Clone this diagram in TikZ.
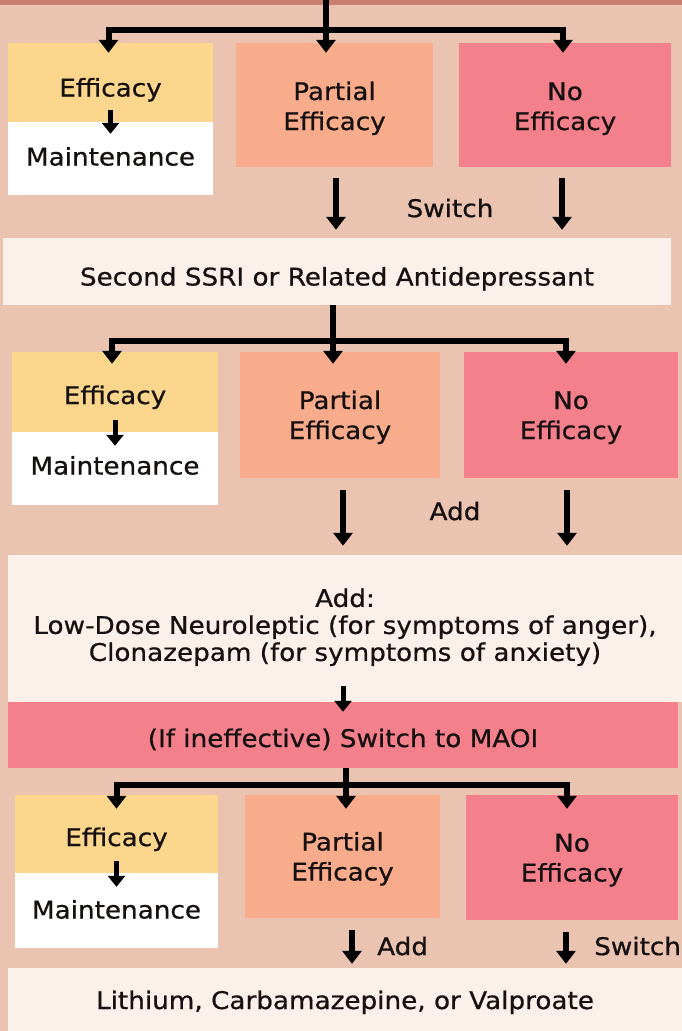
\documentclass[tikz,border=0pt]{standalone}
\usepackage{fontspec}
\newfontfamily\df[FakeStretch=1.08,FakeBold=0.7]{DejaVu Sans}
\usetikzlibrary{arrows.meta}
\definecolor{bg}{RGB}{235,195,177}
\definecolor{topband}{RGB}{201,127,112}
\definecolor{yel}{RGB}{251,214,140}
\definecolor{sal}{RGB}{249,172,140}
\definecolor{pnk}{RGB}{244,128,140}
\definecolor{lite}{RGB}{252,240,234}
\definecolor{txt}{RGB}{22,16,16}
\newcommand{\mytxt}[2]{\raisebox{#1}[\height][\depth]{\begin{tabular}{@{}c@{}}#2\end{tabular}}}
\begin{document}
\begin{tikzpicture}[x=1pt,y=-1pt,
  lbl/.style={font=\df\fontsize{24.3}{30}\selectfont, text=txt, align=center, inner sep=0pt},
  box/.style={lbl, rectangle, draw=none},
  arr/.style={line width=6pt, -{Triangle[width=19pt,length=13pt]}},
  sarr/.style={line width=5pt, -{Triangle[width=17pt,length=11pt]}}]
\useasboundingbox (0,0) rectangle (682,1031);
\fill[bg] (0,0) rectangle (682,1031);
\fill[topband] (0,0) rectangle (682,5);

% ---------- row 1 ----------
\node[box, fill=yel, minimum width=205pt, minimum height=79pt] (eff1) at (110.5,82.5) {\mytxt{-8pt}{Efficacy}};
\node[box, fill=white, minimum width=205pt, minimum height=73pt] (maint1) at (110.5,158.5) {\mytxt{-1pt}{Maintenance}};
\node[box, fill=sal, minimum width=197pt, minimum height=124pt] (part1) at (334.5,105) {\mytxt{-4pt}{Partial\\Efficacy}};
\node[box, fill=pnk, minimum width=212pt, minimum height=124pt] (no1) at (565,105) {\mytxt{-4pt}{No\\Efficacy}};
\coordinate (top) at (326,0);
\coordinate (t1) at (326,30);
\draw[arr] (top) -- ([yshift=-10pt]part1.north -| top);
\draw[arr] (t1) -| ([xshift=-2pt,yshift=-10pt]eff1.north);
\draw[arr] (t1) -| ([xshift=-2pt,yshift=-10pt]no1.north);
\draw[sarr] ([yshift=12pt]eff1.south) -- ([yshift=-12pt]maint1.north);

\node[box, fill=lite, minimum width=668pt, minimum height=67pt] (ssri) at (337,271.5) {\mytxt{-8pt}{Second SSRI or Related Antidepressant}};
\draw[arr] ([xshift=1.5pt,yshift=-11pt]part1.south) -- ([yshift=8pt]ssri.north -| 336,0);
\draw[arr] ([xshift=-3pt,yshift=-11pt]no1.south) -- ([yshift=8pt]ssri.north -| 562,0);
\node[lbl] (sw1) at (450,208) {Switch};

% ---------- row 2 ----------
\node[box, fill=yel, minimum width=206pt, minimum height=80pt] (eff2) at (115,392) {\mytxt{-6pt}{Efficacy}};
\node[box, fill=white, minimum width=206pt, minimum height=73pt] (maint2) at (115,468.5) {\mytxt{0pt}{Maintenance}};
\node[box, fill=sal, minimum width=200pt, minimum height=126pt] (part2) at (340,415) {\mytxt{-3pt}{Partial\\Efficacy}};
\node[box, fill=pnk, minimum width=214pt, minimum height=126pt] (no2) at (571,415) {\mytxt{-3pt}{No\\Efficacy}};
\coordinate (t2) at (333,341);
\draw[arr] (ssri.south -| t2) -- ([yshift=-12pt]part2.north -| t2);
\draw[arr] (t2) -| ([xshift=-3pt,yshift=-12pt]eff2.north);
\draw[arr] (t2) -| ([xshift=-5pt,yshift=-12pt]no2.north);
\draw[sarr] ([yshift=12pt]eff2.south) -- ([yshift=-14pt]maint2.north);

\node[box, fill=lite, minimum width=674pt, minimum height=147pt] (addbox) at (345,628.5)
  {\renewcommand{\arraystretch}{0.9}\mytxt{0pt}{Add:\\Low-Dose Neuroleptic (for symptoms of anger),\\Clonazepam (for symptoms of anxiety)}};
\draw[arr] ([xshift=3pt,yshift=-12pt]part2.south) -- ([yshift=9pt]addbox.north -| 343,0);
\draw[arr] ([xshift=-4pt,yshift=-12pt]no2.south) -- ([yshift=9pt]addbox.north -| 567,0);
\node[lbl] (add1) at (455,511) {Add};

\node[box, fill=pnk, minimum width=670pt, minimum height=66pt] (maoi) at (343,735) {\mytxt{-6pt}{(If ineffective) Switch to MAOI}};
\draw[sarr] ([xshift=-2pt,yshift=16pt]addbox.south) -- ([yshift=-10pt]maoi.north);

% ---------- row 3 ----------
\node[box, fill=yel, minimum width=203pt, minimum height=78pt] (eff3) at (116.5,834) {\mytxt{-6pt}{Efficacy}};
\node[box, fill=white, minimum width=203pt, minimum height=75pt] (maint3) at (116.5,910.5) {\mytxt{-2pt}{Maintenance}};
\node[box, fill=sal, minimum width=195pt, minimum height=123pt] (part3) at (342.5,856.5) {\mytxt{-3pt}{Partial\\Efficacy}};
\node[box, fill=pnk, minimum width=212pt, minimum height=125pt] (no3) at (572,857.5) {\mytxt{-3pt}{No\\Efficacy}};
\coordinate (t3) at (346,785);
\draw[arr] (maoi.south -| t3) -- ([yshift=-14pt]part3.north -| t3);
\draw[arr] (t3) -| ([xshift=0pt,yshift=-14pt]eff3.north);
\draw[arr] (t3) -| ([xshift=-5pt,yshift=-14pt]no3.north);
\draw[sarr] ([yshift=12pt]eff3.south) -- ([yshift=-14pt]maint3.north);

\node[box, fill=lite, minimum width=674pt, minimum height=64pt] (bot) at (345,1000) {\mytxt{-3pt}{Lithium, Carbamazepine, or Valproate}};
\draw[arr] ([xshift=9.5pt,yshift=-12pt]part3.south) -- ([yshift=4pt]bot.north -| 352,0);
\draw[arr] ([xshift=-6pt,yshift=-12pt]no3.south) -- ([yshift=4pt]bot.north -| 566,0);
\node[lbl, anchor=west] (add2) at (377,946) {Add};
\node[lbl, anchor=west] (sw2) at (594,946) {Switch};
\end{tikzpicture}
\end{document}
